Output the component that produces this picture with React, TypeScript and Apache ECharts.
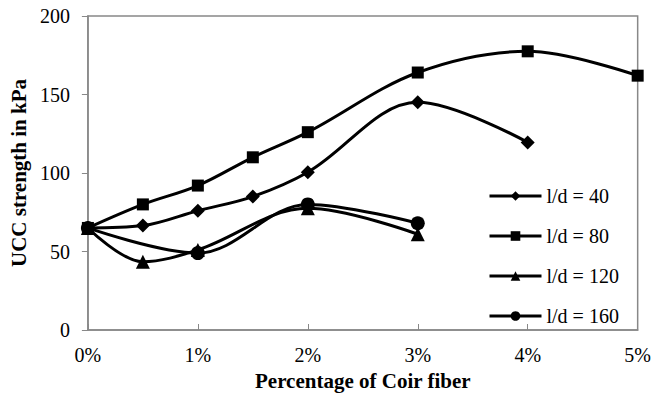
import React, { useEffect, useRef } from "react";
import * as echarts from "echarts";

const xLabels = ["0%", "1%", "2%", "3%", "4%", "5%"];
const yTicks = [0, 50, 100, 150, 200];
const seriesNames = ["l/d = 40", "l/d = 80", "l/d = 120", "l/d = 160"];
const x40 = [0, 0.5, 1, 1.5, 2, 3, 4];
const y40 = [65, 66.5, 76, 85, 100.5, 145, 119.5];
const x80 = [0, 0.5, 1, 1.5, 2, 3, 4, 5];
const y80 = [65, 80, 92, 110, 126, 164, 177.5, 162];
const x120 = [0, 0.5, 1, 2, 3];
const y120 = [65, 43.5, 51, 77.5, 61];
const x160 = [0, 1, 2, 3];
const y160 = [65, 49, 80, 68];
const symbols = ["diamond", "rect", "triangle", "circle"];
const symbolSizes = [14, 12, 14, 14];

const FONT = "'Liberation Serif', 'Times New Roman', serif";

export default function App() {
  const ref = useRef<HTMLDivElement>(null);
  useEffect(() => {
    if (!ref.current) return;
    const chart = echarts.init(ref.current, undefined, { renderer: "svg" });
    const xs = [x40, x80, x120, x160];
    const ys = [y40, y80, y120, y160];
    chart.setOption({
      animation: false,
      textStyle: { fontFamily: FONT },
      grid: {
        left: 86,
        right: 13,
        top: 16,
        bottom: 59,
        show: true,
        borderColor: "#888",
        borderWidth: 1.5,
      },
      legend: {
        orient: "vertical",
        left: 483,
        top: 181,
        itemWidth: 52,
        itemHeight: 12,
        itemGap: 20,
        lineStyle: { width: 3 },
        textStyle: { fontFamily: FONT, fontSize: 20, color: "#000" },
        data: seriesNames,
      },
      xAxis: {
        type: "value",
        min: 0,
        max: 5,
        interval: 1,
        name: "Percentage of Coir fiber",
        nameLocation: "middle",
        nameGap: 40,
        nameTextStyle: { fontFamily: FONT, fontSize: 21, fontWeight: "bold", color: "#000" },
        axisLine: { show: true, lineStyle: { color: "#888", width: 1.5 } },
        axisTick: { show: true, inside: true, length: 6, lineStyle: { color: "#888" } },
        axisLabel: {
          fontFamily: FONT,
          fontSize: 20,
          color: "#000",
          margin: 15,
          formatter: (v: number) => xLabels[Math.round(v)] ?? "",
        },
        splitLine: { show: false },
      },
      yAxis: {
        type: "value",
        min: yTicks[0],
        max: yTicks[yTicks.length - 1],
        interval: 50,
        name: "UCC strength in kPa",
        nameLocation: "middle",
        nameGap: 57,
        nameRotate: 90,
        nameTextStyle: { fontFamily: FONT, fontSize: 21, fontWeight: "bold", color: "#000" },
        axisLine: { show: true, lineStyle: { color: "#888", width: 1.5 } },
        axisTick: { show: true, inside: false, length: 6, lineStyle: { color: "#888" } },
        axisLabel: { fontFamily: FONT, fontSize: 20, color: "#000", margin: 18 },
        splitLine: { show: false },
      },
      series: seriesNames.map((name, i) => ({
        name,
        type: "line",
        smooth: 0.35,
        symbol: symbols[i],
        symbolSize: symbolSizes[i],
        itemStyle: { color: "#000" },
        lineStyle: { color: "#000", width: 3 },
        data: xs[i].map((x, j) => [x, ys[i][j]]),
        z: 4 - i,
      })),
    });
    return () => chart.dispose();
  }, []);
  return <div ref={ref} style={{ width: 654, height: 396, position: "absolute", left: 0, top: 0 }} />;
}
